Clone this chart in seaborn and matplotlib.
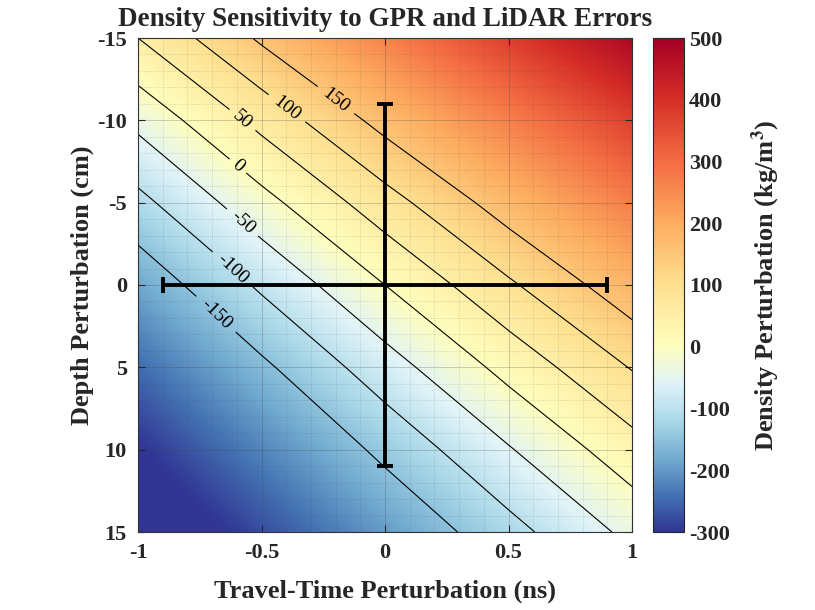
"""
Density sensitivity to GPR travel-time and LiDAR depth errors.
Smooth field + contours + error bars, saved to out.png.
"""

import numpy as np
import matplotlib
matplotlib.use('Agg')
import matplotlib.pyplot as plt
from matplotlib.colors import LinearSegmentedColormap
import seaborn as sns

# grid nodes
travel_time = [-1.0, -0.5, 0.0, 0.5, 1.0]      # ns
depth = [-15, -10, -5, 0, 5, 10, 15]            # cm

# density perturbation (kg/m^3), one row per depth
density_d_m15 = [50, 158, 266, 375, 483]
density_d_m10 = [-37, 65, 168, 270, 372]
density_d_m5 = [-114, -17, 79, 176, 273]
density_d_0 = [-184, -92, 0, 92, 184]
density_d_5 = [-247, -160, -72, 16, 103]
density_d_10 = [-304, -221, -137, -54, 30]
density_d_15 = [-357, -277, -197, -117, -37]

contour_levels = [-150, -100, -50, 0, 50, 100, 150]
cbar_ticks = [-300, -200, -100, 0, 100, 200, 300, 400, 500]
x_ticks = [-1, -0.5, 0, 0.5, 1]
y_ticks = [-15, -10, -5, 0, 5, 10, 15]

# error bar (centre and half widths)
err_center = (0.0, 0.0)
tt_err = 0.9
depth_err = 11

VMIN, VMAX = -300, 500


def diverging_cmap():
    # RdYlBu_r, blue half over [VMIN, 0] and red half over [0, VMAX]
    cols = plt.get_cmap('RdYlBu_r')(np.linspace(0, 1, 11))
    blue_vals = np.linspace(VMIN, 0, 6)
    red_vals = np.linspace(0, VMAX, 6)[1:]
    vals = np.concatenate([blue_vals, red_vals])
    pos = (vals - VMIN) / (VMAX - VMIN)
    return LinearSegmentedColormap.from_list('rdylbu_split', list(zip(pos, cols)))


def make_plot():
    sns.set_style('ticks')
    plt.rcParams['font.family'] = ['Liberation Serif', 'DejaVu Serif']
    plt.rcParams['mathtext.fontset'] = 'stix'
    plt.rcParams['axes.unicode_minus'] = False

    field = np.array([density_d_m15, density_d_m10, density_d_m5, density_d_0,
                      density_d_5, density_d_10, density_d_15], dtype=float)
    tt = np.array(travel_time)
    dd = np.array(depth, dtype=float)
    dt = tt[1] - tt[0]
    dz = dd[1] - dd[0]

    cmap = diverging_cmap()

    fig = plt.figure(figsize=(8.15, 6.10), dpi=100)
    ax = fig.add_axes([138 / 815, 1 - 532 / 610, 494 / 815, 494 / 610])
    cax = fig.add_axes([653 / 815, 1 - 532 / 610, 31 / 815, 494 / 610])

    im = ax.imshow(field, cmap=cmap, vmin=VMIN, vmax=VMAX, aspect='auto',
                   origin='upper', interpolation='bilinear',
                   interpolation_stage='data',
                   extent=[tt[0] - dt / 2, tt[-1] + dt / 2,
                           dd[-1] + dz / 2, dd[0] - dz / 2])

    cs = ax.contour(tt, dd, field, levels=contour_levels, colors='k',
                    linewidths=0.8, linestyles='solid')
    label_pos = [(-0.223, -10.8), (-0.413, -10.45), (-0.595, -9.72),
                 (-0.603, -7.11), (-0.587, -3.65), (-0.619, -0.91),
                 (-0.70, 2.0)]
    ax.clabel(cs, fmt='%d', fontsize=14, manual=label_pos, inline=True,
              inline_spacing=4)

    ax.errorbar(err_center[0], err_center[1], xerr=tt_err, yerr=depth_err,
                color='k', lw=2.8, capsize=6, capthick=2.8, fmt='none',
                zorder=5)

    ax.set_xlim(-1, 1)
    ax.set_ylim(15, -15)
    ax.set_xticks(x_ticks)
    ax.set_xticklabels(['-1', '-0.5', '0', '0.5', '1'])
    ax.set_yticks(y_ticks)
    ax.set_xticks(np.arange(-1, 1.001, 0.1), minor=True)
    ax.set_yticks(np.arange(-15, 15.001, 1), minor=True)
    ax.grid(which='major', color='#404040', lw=0.5, alpha=0.35, ls='-')
    ax.grid(which='minor', color='#404040', lw=0.5, alpha=0.3, ls=':')
    ax.tick_params(which='major', direction='in', length=5, width=0.8,
                   top=True, right=True, labelsize=16, pad=8)
    ax.tick_params(which='minor', length=0)
    for lab in ax.get_xticklabels() + ax.get_yticklabels():
        lab.set_fontweight('bold')
    for sp in ax.spines.values():
        sp.set_linewidth(0.8)
        sp.set_color('#333333')

    ax.set_title('Density Sensitivity to GPR and LiDAR Errors', fontsize=19.5,
                 fontweight='bold', pad=9)
    ax.set_xlabel('Travel-Time Perturbation (ns)', fontsize=19,
                  fontweight='bold', labelpad=12)
    ax.set_ylabel('Depth Perturbation (cm)', fontsize=19, fontweight='bold',
                  labelpad=2)

    cbar = fig.colorbar(im, cax=cax, ticks=cbar_ticks)
    cbar.ax.tick_params(direction='in', length=4, width=0.8, labelsize=16)
    for lab in cbar.ax.get_yticklabels():
        lab.set_fontweight('bold')
    cbar.outline.set_linewidth(0.8)
    cbar.set_label(r'Density Perturbation (kg/m$^{\mathbf{3}}$)', fontsize=19,
                   fontweight='bold', labelpad=14)

    fig.savefig('out.png', dpi=100)
    plt.close(fig)


if __name__ == '__main__':
    make_plot()
